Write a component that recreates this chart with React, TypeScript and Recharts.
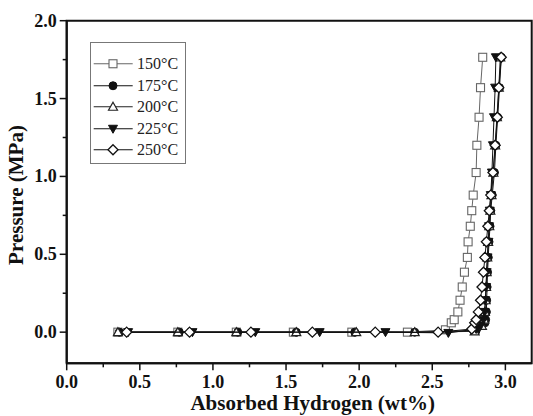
import { ScatterChart, Scatter, XAxis, YAxis, ReferenceArea, Legend } from 'recharts';

// absorbed hydrogen (wt%) and pressure (MPa) per temperature
const h150 = [0.35, 0.76, 1.16, 1.55, 1.95, 2.33, 2.59, 2.63, 2.65, 2.675, 2.69, 2.705, 2.72, 2.74, 2.745, 2.76, 2.77, 2.78, 2.8, 2.805, 2.82, 2.83, 2.845];
const p150 = [0, 0, 0, 0, 0, 0, 0.015, 0.06, 0.08, 0.13, 0.205, 0.29, 0.385, 0.48, 0.58, 0.68, 0.78, 0.88, 1.025, 1.2, 1.38, 1.57, 1.765];

const h175 = [0.36, 0.77, 1.17, 1.57, 1.97, 2.38, 2.8, 2.86, 2.865, 2.87, 2.872, 2.875, 2.878, 2.883, 2.888, 2.895, 2.9, 2.91, 2.925, 2.935, 2.947, 2.96, 2.972];
const p175 = [0, 0, 0, 0, 0, 0, 0.01, 0.06, 0.08, 0.13, 0.205, 0.29, 0.385, 0.48, 0.58, 0.68, 0.78, 0.88, 1.025, 1.2, 1.38, 1.57, 1.765];

const h200 = [0.35, 0.76, 1.16, 1.57, 1.98, 2.38, 2.79, 2.84, 2.855, 2.86, 2.865, 2.868, 2.872, 2.876, 2.882, 2.89, 2.897, 2.905, 2.918, 2.93, 2.942, 2.955, 2.965];
const p200 = [0, 0, 0, 0, 0, 0, 0.005, 0.04, 0.08, 0.13, 0.205, 0.29, 0.385, 0.48, 0.58, 0.68, 0.78, 0.88, 1.025, 1.2, 1.38, 1.57, 1.765];

const h225 = [0.42, 0.86, 1.29, 1.73, 2.18, 2.61, 2.8, 2.83, 2.85, 2.858, 2.862, 2.868, 2.872, 2.878, 2.884, 2.888, 2.893, 2.9, 2.908, 2.915, 2.922, 2.93, 2.935];
const p225 = [0, 0, 0, 0, 0, -0.005, 0.02, 0.04, 0.08, 0.13, 0.205, 0.29, 0.385, 0.48, 0.58, 0.68, 0.78, 0.88, 1.025, 1.2, 1.38, 1.57, 1.765];

const h250 = [0.41, 0.84, 1.26, 1.68, 2.11, 2.54, 2.77, 2.79, 2.8, 2.815, 2.83, 2.84, 2.85, 2.86, 2.87, 2.88, 2.89, 2.9, 2.915, 2.93, 2.945, 2.955, 2.972];
const p250 = [0, 0, 0, 0, 0, 0, 0.02, 0.06, 0.08, 0.13, 0.205, 0.29, 0.385, 0.48, 0.58, 0.68, 0.78, 0.88, 1.025, 1.2, 1.38, 1.57, 1.765];

const xTicks = [0, 0.25, 0.5, 0.75, 1, 1.25, 1.5, 1.75, 2, 2.25, 2.5, 2.75, 3];
const yTicks = [0, 0.25, 0.5, 0.75, 1, 1.25, 1.5, 1.75, 2];

const FONT = '"Liberation Serif", "Times New Roman", serif';

const zip = (xs: number[], ys: number[]) => xs.map((x, i) => ({ x, y: ys[i] }));

type Kind = 'square' | 'circle' | 'triangle' | 'down' | 'diamond';

const series: { name: string; data: { x: number; y: number }[]; kind: Kind; color: string }[] = [
    { name: '150°C', data: zip(h150, p150), kind: 'square', color: '#666' },
    { name: '175°C', data: zip(h175, p175), kind: 'circle', color: '#111' },
    { name: '200°C', data: zip(h200, p200), kind: 'triangle', color: '#222' },
    { name: '225°C', data: zip(h225, p225), kind: 'down', color: '#111' },
    { name: '250°C', data: zip(h250, p250), kind: 'diamond', color: '#111' },
];

function Marker({ kind, cx, cy, color }: { kind: Kind; cx: number; cy: number; color: string }) {
    switch (kind) {
        case 'square':
            return <rect x={cx - 4} y={cy - 4} width={8} height={8} fill="#fff" stroke={color} strokeWidth={1.1} />;
        case 'circle':
            return <circle cx={cx} cy={cy} r={4} fill={color} stroke={color} />;
        case 'triangle':
            return <polygon points={`${cx},${cy - 4.5} ${cx + 4.5},${cy + 3.5} ${cx - 4.5},${cy + 3.5}`} fill="#fff" stroke={color} strokeWidth={1.2} />;
        case 'down':
            return <polygon points={`${cx - 4.5},${cy - 3.5} ${cx + 4.5},${cy - 3.5} ${cx},${cy + 4.5}`} fill={color} stroke={color} />;
        default:
            return <polygon points={`${cx},${cy - 5} ${cx + 5},${cy} ${cx},${cy + 5} ${cx - 5},${cy}`} fill="#fff" stroke={color} strokeWidth={1.3} />;
    }
}

const XTick = (props: any) => {
    const { x, y, payload } = props;
    const major = Math.abs(payload.value * 2 - Math.round(payload.value * 2)) < 1e-6;
    return (
        <g>
            <line x1={x} y1={y} x2={x} y2={y + (major ? 7 : 4)} stroke="#111" strokeWidth={1.5} />
            {major && (
                <text x={x} y={y + 25} textAnchor="middle" fontFamily={FONT} fontWeight="bold" fontSize={18} fill="#111">
                    {payload.value.toFixed(1)}
                </text>
            )}
        </g>
    );
};

const YTick = (props: any) => {
    const { x, y, payload } = props;
    const major = Math.abs(payload.value * 2 - Math.round(payload.value * 2)) < 1e-6;
    return (
        <g>
            <line x1={x} y1={y} x2={x - (major ? 7 : 4)} y2={y} stroke="#111" strokeWidth={1.5} />
            {major && (
                <text x={x - 10} y={y + 6} textAnchor="end" fontFamily={FONT} fontWeight="bold" fontSize={18} fill="#111">
                    {payload.value.toFixed(1)}
                </text>
            )}
        </g>
    );
};

const renderLegend = () => (
    <div style={{ fontFamily: FONT, fontSize: 16, color: '#222', paddingTop: 10 }}>
        {series.map((s) => (
            <div key={s.name} style={{ display: 'flex', alignItems: 'center', height: 21.5 }}>
                <svg width={46} height={21.5}>
                    <line x1={2.7} y1={10.75} x2={41.7} y2={10.75} stroke={s.color} strokeWidth={1} />
                    <Marker kind={s.kind} cx={22} cy={10.75} color={s.color} />
                </svg>
                <span style={{ lineHeight: '21.5px' }}>{s.name}</span>
            </div>
        ))}
    </div>
);

export default function App() {
    return (
        <div style={{ position: 'absolute', left: 0, top: 0, width: 533, height: 416, overflow: 'hidden', background: '#fff' }}>
            <ScatterChart width={533} height={416} margin={{ top: 20.7, right: 1.3, left: 6.7, bottom: 0.7 }}>
                <XAxis
                    type="number"
                    dataKey="x"
                    domain={[0, 3.18]}
                    allowDataOverflow
                    ticks={xTicks}
                    interval={0}
                    height={52}
                    tickSize={0}
                    tickMargin={0}
                    tick={<XTick />}
                    axisLine={{ stroke: '#111', strokeWidth: 2 }}
                    tickLine={false}
                    label={{
                        content: ({ viewBox }: any) => (
                            <text x={viewBox.x + 246} y={viewBox.y + 47} textAnchor="middle" fontFamily={FONT} fontWeight="bold" fontSize={21} fill="#111">
                                Absorbed Hydrogen (wt%)
                            </text>
                        ),
                    }}
                />
                <YAxis
                    type="number"
                    dataKey="y"
                    domain={[-0.2, 2.0]}
                    allowDataOverflow
                    ticks={yTicks}
                    interval={0}
                    width={60}
                    tickSize={0}
                    tickMargin={0}
                    tick={<YTick />}
                    axisLine={{ stroke: '#111', strokeWidth: 2 }}
                    tickLine={false}
                    label={{
                        content: () => {
                            const cx = 23;
                            const cy = 195;
                            return (
                                <text x={cx} y={cy} transform={`rotate(-90 ${cx} ${cy})`} textAnchor="middle" fontFamily={FONT} fontWeight="bold" fontSize={21} fill="#111">
                                    Pressure (MPa)
                                </text>
                            );
                        },
                    }}
                />
                <ReferenceArea x1={0} x2={3.18} y1={-0.2} y2={2.0} fill="none" stroke="#111" strokeWidth={2} />
                <Legend
                    layout="horizontal"
                    verticalAlign="middle"
                    align="center"
                    content={renderLegend}
                    wrapperStyle={{ position: 'absolute', left: 90, top: 42, width: 94, height: 120, border: '1.5px solid #777', background: '#fff' }}
                />
                {series.map((s) => (
                    <Scatter
                        key={s.name}
                        name={s.name}
                        data={s.data}
                        line={{ stroke: s.color, strokeWidth: 1 }}
                        lineType="joint"
                        isAnimationActive={false}
                        shape={(p: any) => <Marker kind={s.kind} cx={p.cx} cy={p.cy} color={s.color} />}
                    />
                ))}
            </ScatterChart>
        </div>
    );
}
